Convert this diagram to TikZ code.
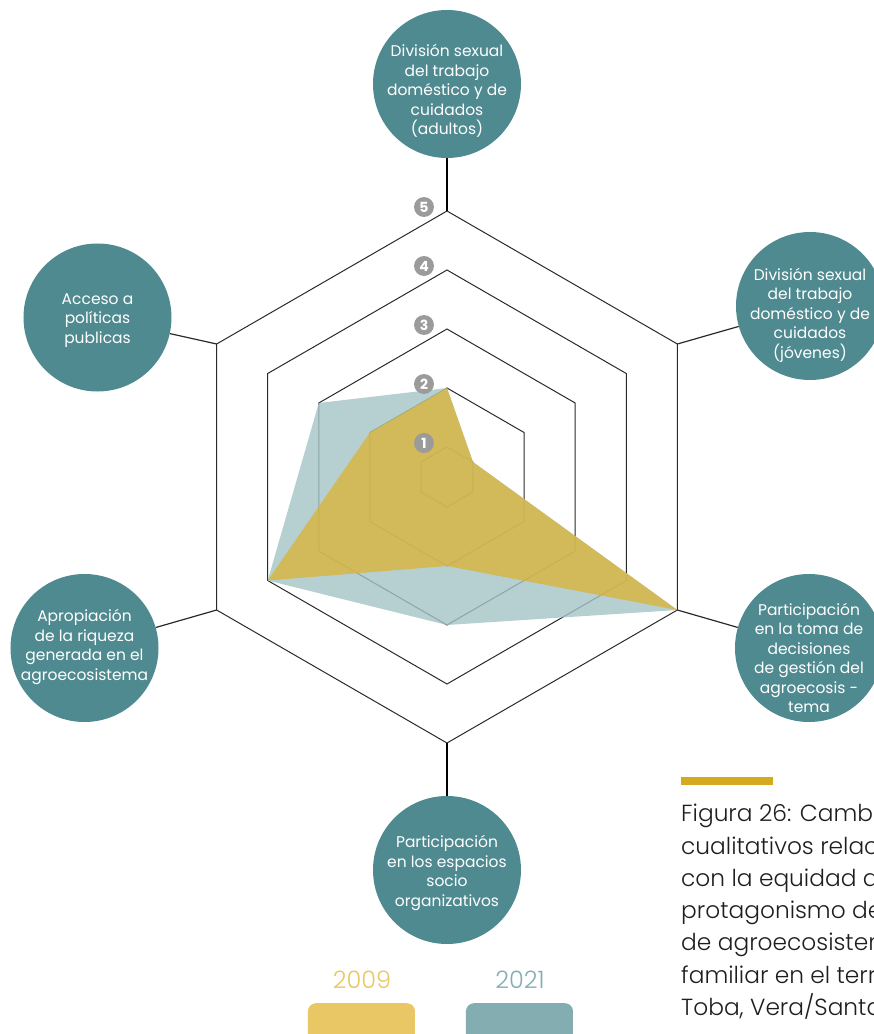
\documentclass[tikz,border=0pt]{standalone}
\usepackage{fontspec}
\setmainfont{Poppins}
\IfFontExistsTF{Poppins Light}{\newfontfamily\lightfont{Poppins Light}}{\newfontfamily\lightfont{Poppins}}
\usetikzlibrary{positioning}
\definecolor{topicteal}{HTML}{4F8A90}
\definecolor{gridgray}{HTML}{2A2A2A}
\definecolor{badgegray}{HTML}{9B9B9B}
\definecolor{fill09}{RGB}{217,180,60}
\definecolor{fill21}{RGB}{164,196,199}
\definecolor{key09}{HTML}{E8C764}
\definecolor{key21}{HTML}{84ADB1}
\definecolor{captionbar}{HTML}{D4AA1F}
\definecolor{captiontext}{HTML}{1E1E1E}
\tikzset{
    ring/.style={draw=gridgray, line width=1pt}, % the five hexagons
    spoke/.style={draw=gridgray, line width=1.2pt}, % links to the side circles
    mainspoke/.style={draw=black, line width=2pt}, % links to top and bottom circles
    topic/.style={circle, fill=topicteal, minimum size=148pt, inner sep=0pt},
    topictext/.style={text=white, align=center, inner sep=0pt, font=\fontsize{15.5}{19.5}\selectfont},
    badge/.style={circle, fill=badgegray, minimum size=20pt, inner sep=0pt, text=white, font=\bfseries\fontsize{14}{14}\selectfont},
    keytext/.style={font=\lightfont\fontsize{24}{24}\selectfont, inner sep=0pt},
    keybox/.style={rounded corners=8pt, minimum width=107pt, minimum height=60pt, inner sep=0pt, anchor=north},
    }
\begin{document}
\begin{tikzpicture}[x=1pt, y=1pt]
    \useasboundingbox (-447,-557) rectangle (427,477);
    \clip (-447,-557) rectangle (427,477);
    % hexagon rings
    \foreach \k in {1,...,5} {
        \pgfmathsetmacro{\r}{30+59*(\k-1)}
        \draw[ring] (90:\r) -- (30:\r) -- (-30:\r) -- (-90:\r) -- (-150:\r) -- (150:\r) -- cycle;
    }
    % corners of the outer ring
    \coordinate (v1) at (90:266);
    \coordinate (v2) at (30:266);
    \coordinate (v3) at (-30:266);
    \coordinate (v4) at (-90:266);
    \coordinate (v5) at (-150:266);
    \coordinate (v6) at (150:266);
    % values 2021 and 2009
    \fill[fill21, fill opacity=0.8] (90:89) -- (30:30) -- (-30:266) -- (-90:148) -- (-150:207) -- (150:148) -- cycle;
    \fill[fill09, fill opacity=0.8] (90:89) -- (30:30) -- (-30:266) -- (-90:89) -- (-150:207) -- (150:89) -- cycle;
    % numbers of the rings
    \foreach \k in {1,...,5} {
        \pgfmathsetmacro{\r}{30+59*(\k-1)}
        \node[badge] (n\k) at (-23,{\r+4}) {\k};
    }
    % topics
    \node[topic] (adultos) at (0,393) {};
    \node[topic] (jovenes) at (363,171) {};
    \node[topic] (decisiones) at (362,-171) {};
    \node[topic] (espacios) at (0,-393) {};
    \node[topic] (riqueza) at (-362.5,-171) {};
    \node[topic] (politicas) at (-349.5,159.5) {};
    \node[topictext, yshift=-7] (adultos-t) at (adultos) {División sexual\\del trabajo\\doméstico y de\\cuidados\\(adultos)};
    \node[topictext, yshift=-9] (jovenes-t) at (jovenes) {División sexual\\del trabajo\\doméstico y de\\cuidados\\(jóvenes)};
    \node[topictext, yshift=-10] (decisiones-t) at (decisiones) {Participación\\en la toma de\\decisiones\\de gestión del\\agroecosis -\\tema};
    \node[topictext, yshift=-3] (espacios-t) at (espacios) {Participación\\en los espacios\\socio\\organizativos};
    \node[topictext, yshift=1] (riqueza-t) at (riqueza) {Apropiación\\de la riqueza\\generada en el\\agroecosistema};
    \node[topictext, yshift=-3] (politicas-t) at (politicas) {Acceso a\\políticas\\publicas};
    \draw[mainspoke] (v1) -- (adultos);
    \draw[mainspoke] (v4) -- (espacios);
    \draw[spoke] (v2) -- (jovenes);
    \draw[spoke] (v3) -- (decisiones);
    \draw[spoke] (v5) -- (riqueza);
    \draw[spoke] (v6) -- (politicas);
    % legend
    \node[keytext, text=key09] (y09) at (-85,-503) {2009};
    \node[keytext, text=key21] (y21) at (73,-503) {2021};
    \node[keybox, fill=key09] (k09) at (-85.5,-526) {};
    \node[keybox, fill=key21] (k21) at (72.5,-526) {};
    % caption
    \fill[captionbar] (234,-300) rectangle (326,-308);
    \node[anchor=north west, inner sep=0pt, align=left, text=captiontext, font=\lightfont\fontsize{23.3}{32.3}\selectfont] (caption) at (234,-327)
        {Figura 26: Camb\\cualitativos relac\\con la equidad d\\protagonismo de\\de agroecosistem\\familiar en el terr\\Toba, Vera/Santa};
\end{tikzpicture}
\end{document}
